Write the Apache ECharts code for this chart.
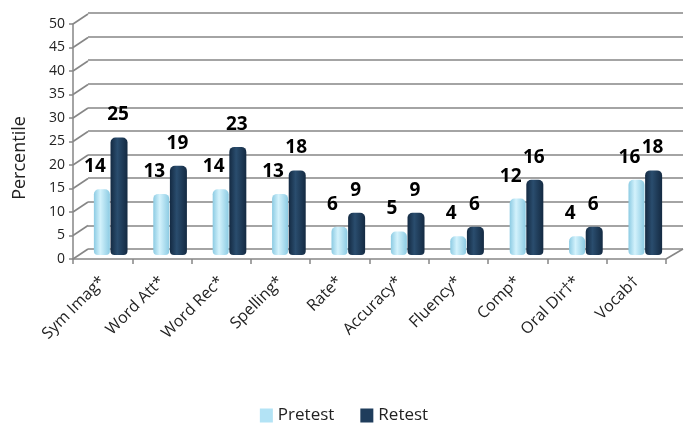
<!DOCTYPE html>
<html>
<head>
<meta charset="utf-8">
<script src="https://cdn.jsdelivr.net/npm/echarts@6/dist/echarts.min.js"></script>
<style>
  html, body { margin: 0; padding: 0; background: #fff; }
  #chart { width: 688px; height: 424px; }
</style>
</head>
<body>
<div id="chart"></div>
<script>
const categories = ['Sym Imag*', 'Word Att*', 'Word Rec*', 'Spelling*', 'Rate*', 'Accuracy*', 'Fluency*', 'Comp*', 'Oral Dir†*', 'Vocab†'];
const pretest = [14, 13, 14, 13, 6, 5, 4, 12, 4, 16];
const retest = [25, 19, 23, 18, 9, 9, 6, 16, 6, 18];
const yTicks = [0, 5, 10, 15, 20, 25, 30, 35, 40, 45, 50];

const FONT = '"Open Sans", sans-serif';
const GRID_COLOR = '#868686';
const PRE_COLOR = '#b3e3f5';
const RE_COLOR = '#1f3d5c';
const DEPTH_X = 15;
const DEPTH_Y = -10;

const chart = echarts.init(document.getElementById('chart'));

function cylinder(edge, mid) {
  return new echarts.graphic.LinearGradient(0, 0, 1, 0, [
    { offset: 0, color: edge },
    { offset: 0.4, color: mid },
    { offset: 1, color: edge },
  ]);
}

const option = {
  backgroundColor: '#fff',
  animation: false,
  textStyle: { fontFamily: FONT },
  legend: {
    data: [
      { name: 'Pretest', itemStyle: { color: PRE_COLOR } },
      { name: 'Retest', itemStyle: { color: RE_COLOR } },
    ],
    top: 402,
    left: 'center',
    itemWidth: 13,
    itemHeight: 14,
    itemGap: 26,
    icon: 'rect',
    textStyle: { fontSize: 17, color: '#222', fontFamily: FONT },
  },
  graphic: [
    {
      type: 'text',
      x: 20,
      y: 158,
      rotation: Math.PI / 2,
      style: {
        text: 'Percentile',
        fontSize: 18,
        fill: '#222',
        fontFamily: FONT,
        align: 'center',
        verticalAlign: 'middle',
      },
    },
  ],
  grid: [
    // front: axes, labels
    { left: 73, right: 22, top: 24, bottom: 165 },
    // back wall gridlines
    { left: 88, right: 5, top: 13, bottom: 175 },
    // bars (middle depth)
    { left: 81, right: 13, top: 20, bottom: 169 },
  ],
  xAxis: [
    {
      gridIndex: 0,
      type: 'category',
      data: categories,
      axisLine: { lineStyle: { color: GRID_COLOR, width: 1.5 } },
      axisTick: { show: true, length: 5, lineStyle: { color: GRID_COLOR, width: 1.5 } },
      axisLabel: { rotate: 45, interval: 0, fontSize: 16, color: '#222', margin: 20, fontFamily: FONT },
    },
    { gridIndex: 1, type: 'category', data: categories, show: false },
    { gridIndex: 2, type: 'category', data: categories, show: false },
  ],
  yAxis: [
    {
      gridIndex: 0,
      type: 'value',
      min: yTicks[0],
      max: yTicks[yTicks.length - 1],
      interval: 5,
      axisLine: { show: true, lineStyle: { color: GRID_COLOR, width: 1.5 } },
      axisTick: { show: true, length: 4, lineStyle: { color: GRID_COLOR, width: 1.5 } },
      axisLabel: { fontSize: 14, color: '#222', margin: 8, fontFamily: FONT },
      splitLine: { show: false },
    },
    {
      gridIndex: 1,
      type: 'value',
      min: yTicks[0],
      max: yTicks[yTicks.length - 1],
      interval: 5,
      axisLine: { show: false },
      axisTick: { show: false },
      axisLabel: { show: false },
      splitLine: { show: true, lineStyle: { color: GRID_COLOR, width: 1.6 } },
    },
    {
      gridIndex: 2,
      type: 'value',
      min: yTicks[0],
      max: yTicks[yTicks.length - 1],
      interval: 5,
      show: false,
      splitLine: { show: false },
    },
  ],
  series: [
    {
      // slanted side-wall and floor edge lines
      type: 'custom',
      xAxisIndex: 0,
      yAxisIndex: 0,
      clip: false,
      silent: true,
      data: yTicks.map(v => [0, v]),
      encode: { x: 0, y: 1 },
      renderItem: (params, api) => {
        const cs = params.coordSys;
        const p = api.coord([0, api.value(1)]);
        const style = { stroke: GRID_COLOR, lineWidth: 1.6 };
        const children = [
          { type: 'line', shape: { x1: cs.x, y1: p[1], x2: cs.x + DEPTH_X, y2: p[1] + DEPTH_Y }, style },
        ];
        if (api.value(1) === 0) {
          children.push({
            type: 'line',
            shape: { x1: cs.x + cs.width, y1: p[1], x2: cs.x + cs.width + DEPTH_X + 2, y2: p[1] + DEPTH_Y },
            style,
          });
        }
        return { type: 'group', children };
      },
    },
    {
      name: 'Pretest',
      type: 'bar',
      xAxisIndex: 2,
      yAxisIndex: 2,
      data: pretest,
      barWidth: 16,
      barGap: '4%',
      itemStyle: { color: cylinder('#8ccbe3', '#d3f2fc'), borderRadius: [5, 5, 4, 4] },
      label: {
        show: true,
        position: 'top',
        distance: 13,
        offset: [-7, 0],
        fontSize: 19,
        fontWeight: 'bold',
        color: '#000',
        fontFamily: FONT,
      },
    },
    {
      name: 'Retest',
      type: 'bar',
      xAxisIndex: 2,
      yAxisIndex: 2,
      data: retest,
      barWidth: 17,
      itemStyle: { color: cylinder('#142a42', '#2a4d6e'), borderRadius: [5, 5, 4, 4] },
      label: {
        show: true,
        position: 'top',
        distance: 13,
        offset: [-1, 0],
        fontSize: 19,
        fontWeight: 'bold',
        color: '#000',
        fontFamily: FONT,
      },
    },
  ],
};

chart.setOption(option);
</script>
</body>
</html>
